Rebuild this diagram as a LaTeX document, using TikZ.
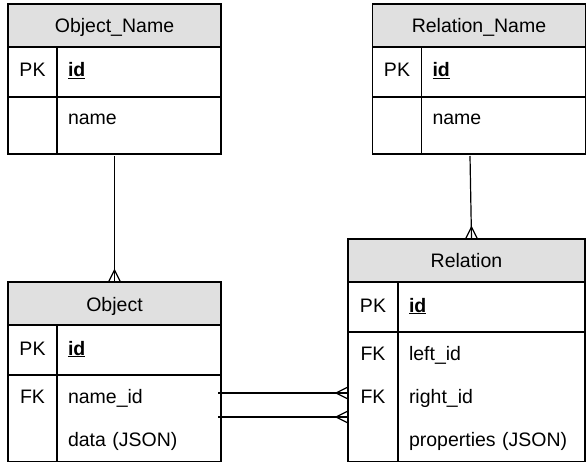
\documentclass[tikz,border=0pt]{standalone}
\usepackage{fontspec}
\setmainfont{Liberation Sans}
\usetikzlibrary{positioning,calc}
\definecolor{headgray}{RGB}{224,224,224}
\tikzset{
  tblhead/.style={draw, fill=headgray, line width=1.2pt, outer sep=0pt, inner sep=0pt,
    minimum width=213pt, minimum height=43pt, text height=16pt, text depth=1pt},
  keycell/.style={draw, line width=1.2pt, outer sep=0pt, inner sep=0pt,
    minimum width=49pt, text height=14pt, text depth=4pt},
  fieldcell/.style={draw, line width=1.2pt, outer sep=0pt, inner xsep=11pt, inner ysep=0pt,
    text width=142pt, align=left, text height=14pt, text depth=4pt},
  rowkey/.style={outer sep=0pt, inner sep=0pt, minimum width=49pt, minimum height=43pt,
    text height=15pt, text depth=2pt},
  rowtext/.style={outer sep=0pt, inner xsep=11pt, inner ysep=0pt, minimum height=43pt,
    text width=142pt, align=left, text height=15pt, text depth=2pt},
  link/.style={line width=1.2pt},
  crow/.pic={\draw[link] (-12pt,0pt) -- (0pt,6pt) (-12pt,0pt) -- (0pt,-6pt);}
}
\begin{document}
\begin{tikzpicture}[x=1pt, y=-1pt, font=\fontsize{19.5}{23}\selectfont]
  \useasboundingbox (0,0) rectangle (586,462);

  % Object_Name
  \node[tblhead, anchor=north west] (onamehead) at (8,4) {Object\_Name};
  \node[keycell, minimum height=50pt, anchor=north west] (onamepk) at (onamehead.south west) {PK};
  \node[fieldcell, minimum height=50pt, anchor=north west] (onameid) at (onamepk.north east) {\underline{\textbf{id}}};
  \node[keycell, minimum height=57pt, anchor=north west] (onamekeys) at (onamepk.south west) {};
  \node[fieldcell, minimum height=57pt, anchor=north west] (onamefields) at (onamekeys.north east) {};
  \node[rowtext, anchor=north west] (onamename) at (onamefields.north west) {name};

  % Relation_Name
  \node[tblhead, anchor=north west] (rnamehead) at (372.5,4) {Relation\_Name};
  \node[keycell, minimum height=50pt, anchor=north west] (rnamepk) at (rnamehead.south west) {PK};
  \node[fieldcell, minimum height=50pt, anchor=north west] (rnameid) at (rnamepk.north east) {\underline{\textbf{id}}};
  \node[keycell, minimum height=57pt, anchor=north west] (rnamekeys) at (rnamepk.south west) {};
  \node[fieldcell, minimum height=57pt, anchor=north west] (rnamefields) at (rnamekeys.north east) {};
  \node[rowtext, anchor=north west] (rnamename) at (rnamefields.north west) {name};

  % Object
  \node[tblhead, anchor=north west] (objhead) at (8,282) {Object};
  \node[keycell, minimum height=50pt, anchor=north west] (objpk) at (objhead.south west) {PK};
  \node[fieldcell, minimum height=50pt, anchor=north west] (objid) at (objpk.north east) {\underline{\textbf{id}}};
  \node[keycell, minimum height=86.5pt, anchor=north west] (objkeys) at (objpk.south west) {};
  \node[fieldcell, minimum height=86.5pt, anchor=north west] (objfields) at (objkeys.north east) {};
  \node[rowkey, anchor=north west] (objfk) at (objkeys.north west) {FK};
  \node[rowtext, anchor=north west] (objnameid) at (objfields.north west) {name\_id};
  \node[rowtext, below=0pt of objnameid] (objdata) {data (JSON)};

  % Relation
  \node[tblhead, minimum width=237pt, anchor=north west] (relhead) at (348,239) {Relation};
  \node[keycell, minimum width=50pt, minimum height=50pt, anchor=north west] (relpk) at (relhead.south west) {PK};
  \node[fieldcell, text width=165pt, minimum height=50pt, anchor=north west] (relid) at (relpk.north east) {\underline{\textbf{id}}};
  \node[keycell, minimum width=50pt, minimum height=129.5pt, anchor=north west] (relkeys) at (relpk.south west) {};
  \node[fieldcell, text width=165pt, minimum height=129.5pt, anchor=north west] (relfields) at (relkeys.north east) {};
  \node[rowkey, minimum width=50pt, anchor=north west] (relfkleft) at (relkeys.north west) {FK};
  \node[rowkey, minimum width=50pt, below=0pt of relfkleft] (relfkright) {FK};
  \node[rowtext, text width=165pt, anchor=north west] (relleft) at (relfields.north west) {left\_id};
  \node[rowtext, text width=165pt, below=0pt of relleft] (relright) {right\_id};
  \node[rowtext, text width=165pt, below=0pt of relright] (relprops) {properties (JSON)};

  % links
  \draw[link] ($(onamehead.south |- onamefields.south)+(0,2)$) -- (objhead.north);
  \pic[rotate=-90] at (objhead.north) {crow};

  \coordinate (rntop) at ($(rnamehead.south |- rnamefields.south)+(-9,2)$);
  \coordinate (reltop) at ($(relhead.north)+(5,0)$);
  \draw[link] (rntop) -- (reltop);
  \pic[rotate=-90] at (reltop) {crow};

  \coordinate (fkone) at ($(objfields.north east)+(-3,18)$);
  \coordinate (fktwo) at ($(objfields.north east)+(-3,42)$);
  \draw[link] (fkone) -- (fkone -| relkeys.west);
  \draw[link] (fktwo) -- (fktwo -| relkeys.west);
  \pic at (fkone -| relkeys.west) {crow};
  \pic at (fktwo -| relkeys.west) {crow};
\end{tikzpicture}
\end{document}
